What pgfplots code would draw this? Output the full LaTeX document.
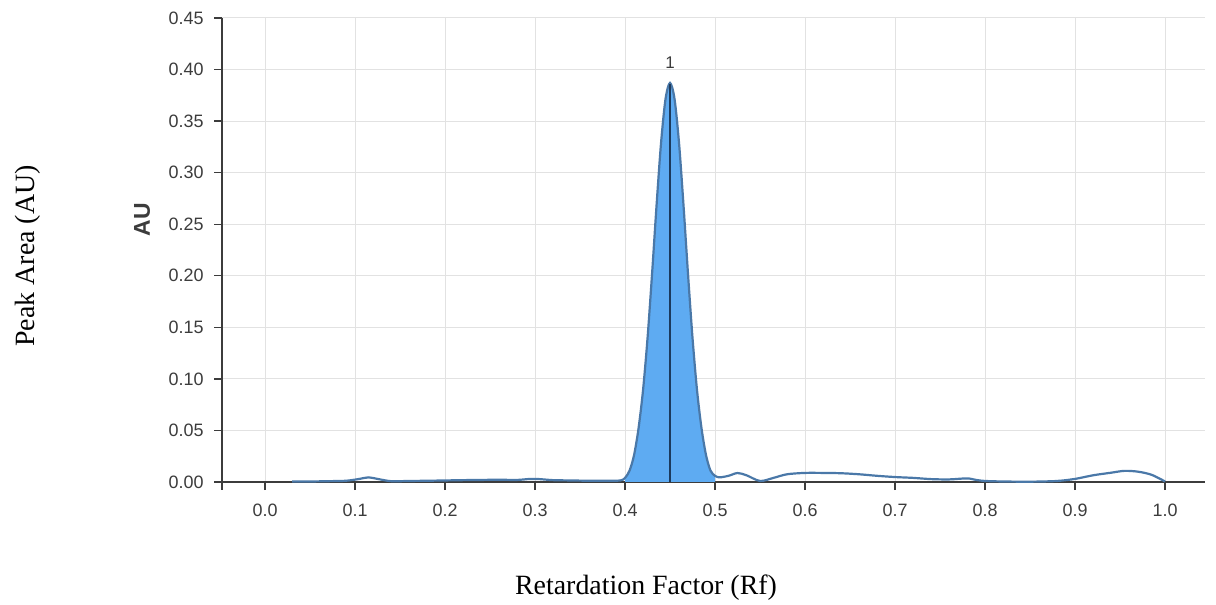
\documentclass[border=0pt]{standalone}
\usepackage{pgfplots}
\pgfplotsset{compat=1.18}
\usepackage{fontspec}
\setmainfont{Liberation Serif}
\newfontfamily\arial{Liberation Sans}

\definecolor{gridc}{HTML}{E2E2E2}
\definecolor{axisc}{HTML}{3C3C3C}
\definecolor{linec}{HTML}{4A78A8}
\definecolor{fillc}{HTML}{5EABF2}
\definecolor{markc}{HTML}{1C3A5C}

% densitometer trace (Rf, AU)
\pgfplotstableread{
x y
0.030 0.0005
0.050 0.0005
0.070 0.0008
0.090 0.0012
0.105 0.0030
0.115 0.0045
0.125 0.0030
0.140 0.0008
0.160 0.0010
0.180 0.0012
0.200 0.0015
0.220 0.0018
0.240 0.0020
0.260 0.0022
0.280 0.0020
0.295 0.0030
0.305 0.0028
0.320 0.0018
0.340 0.0015
0.360 0.0012
0.380 0.0012
0.395 0.0015
0.400 0.0040
0.405 0.0110
0.410 0.0260
0.415 0.0520
0.420 0.0890
0.425 0.1395
0.430 0.2014
0.435 0.2680
0.440 0.3287
0.445 0.3715
0.450 0.3870
0.455 0.3715
0.460 0.3287
0.465 0.2680
0.470 0.2014
0.475 0.1395
0.480 0.0890
0.485 0.0520
0.490 0.0260
0.495 0.0110
0.500 0.0060
0.505 0.0045
0.515 0.0060
0.525 0.0087
0.535 0.0065
0.550 0.0010
0.565 0.0040
0.580 0.0075
0.600 0.0088
0.620 0.0088
0.640 0.0085
0.660 0.0075
0.680 0.0060
0.700 0.0048
0.720 0.0040
0.740 0.0028
0.760 0.0025
0.780 0.0035
0.790 0.0020
0.800 0.0010
0.820 0.0005
0.850 0.0003
0.880 0.0010
0.900 0.0030
0.920 0.0065
0.940 0.0090
0.955 0.0108
0.970 0.0100
0.985 0.0070
1.000 0.0005
}\trace

% the integrated peak
\pgfplotstableread{
x y
0.400 0.0040
0.405 0.0110
0.410 0.0260
0.415 0.0520
0.420 0.0890
0.425 0.1395
0.430 0.2014
0.435 0.2680
0.440 0.3287
0.445 0.3715
0.450 0.3870
0.455 0.3715
0.460 0.3287
0.465 0.2680
0.470 0.2014
0.475 0.1395
0.480 0.0890
0.485 0.0520
0.490 0.0260
0.495 0.0110
0.500 0.0060
}\peak

\begin{document}
\begin{tikzpicture}
\path[use as bounding box] (0,0) rectangle (1216bp,605bp);
\begin{axis}[
  at={(222bp,123bp)}, anchor=south west,
  scale only axis, width=983bp, height=464bp,
  xmin=-0.0478, xmax=1.0444, ymin=0, ymax=0.45,
  axis x line*=bottom, axis y line*=left,
  axis line style={draw=axisc, line width=1.3bp},
  xtick={0,0.1,...,1.01}, ytick={0,0.05,...,0.451},
  grid=major, grid style={gridc, line width=1bp},
  tick align=outside, major tick length=8bp,
  tick style={axisc, line width=1.3bp},
  xticklabel style={yshift=-10bp, /pgf/number format/.cd, fixed, fixed zerofill, precision=1},
  yticklabel style={xshift=-7bp, /pgf/number format/.cd, fixed, fixed zerofill, precision=2},
  /pgf/number format/assume math mode=true,
  ticklabel style={font=\arial\fontsize{18}{21}\selectfont, text=axisc},
  clip=false,
]
\addplot[draw=none, fill=fillc, smooth] table {\peak} \closedcycle;
\addplot[linec, line width=2.2bp, smooth] table {\trace};
\addplot[markc, line width=1.6bp] coordinates {(0.45,0) (0.45,0.386)};
\draw[axisc, line width=1.3bp] (rel axis cs:0,0) -- ++(0pt,-8bp);
\node[font=\arial\fontsize{17}{19}\selectfont, text=axisc, anchor=base]
  at (axis cs:0.45,0.387) [yshift=14bp] {1};
\end{axis}
\node[font=\arial\bfseries\fontsize{23}{28}\selectfont, text=axisc, rotate=90] at (142bp,385bp) {AU};
\node[font=\fontsize{28}{32}\selectfont, rotate=90] at (28bp,349bp) {Peak Area (AU)};
\node[font=\fontsize{28}{32}\selectfont] at (646bp,17bp) {Retardation Factor (Rf)};
\end{tikzpicture}
\end{document}
